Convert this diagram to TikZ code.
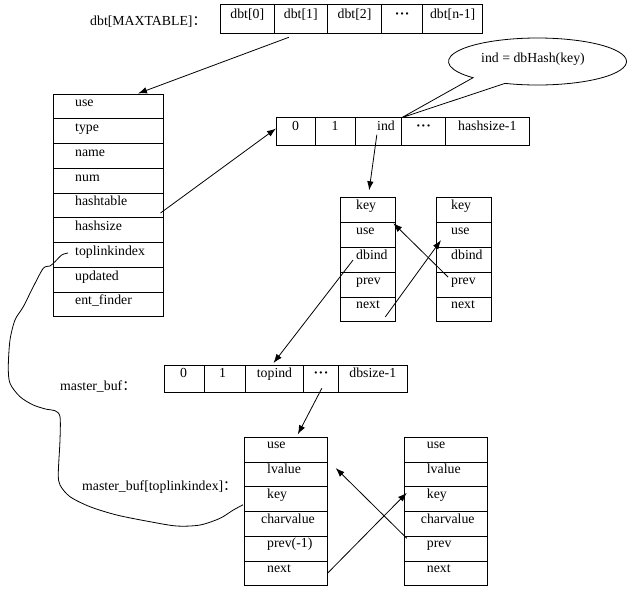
\documentclass[tikz,border=0pt]{standalone}
\usepackage{fontspec}
\setmainfont{Liberation Serif}
\newfontfamily\cjk{Noto Sans CJK SC}
\usetikzlibrary{arrows.meta,calc}
\newcommand{\mydots}{\textbf{·\kern0.5pt·\kern0.5pt·}}
\begin{document}
\begin{tikzpicture}[x=1pt,y=-1pt,
  every node/.style={font=\fontsize{13.8}{15}\selectfont},
  cell/.style={draw, rectangle, inner sep=0pt, outer sep=0pt, line width=0.8pt, anchor=north west},
  txt/.style={inner sep=0pt, anchor=base west},
  ctxt/.style={inner sep=0pt, anchor=base},
  link/.style={line width=0.8pt, -{Latex[length=9pt,width=6.5pt]}},
  plainline/.style={line width=0.8pt}]
\useasboundingbox (0,0) rectangle (633,598);

% ---- dbt array ----
\node[txt] (lblD) at (90,25) {dbt[MAXTABLE]{\cjk ：}};
\node[cell, minimum width=54pt, minimum height=29.3pt] (D0) at (220.3,4) {};
\node[cell, minimum width=53pt, minimum height=29.3pt] (D1) at (274.3,4) {};
\node[cell, minimum width=54.4pt, minimum height=29.3pt] (D2) at (327.3,4) {};
\node[cell, minimum width=41pt, minimum height=29.3pt] (D3) at (381.7,4) {};
\node[cell, minimum width=60pt, minimum height=29.3pt] (D4) at (422.7,4) {};
\node[ctxt] (D0t) at (247.3,18.5) {dbt[0]};
\node[ctxt] (D1t) at (300.8,18.5) {dbt[1]};
\node[ctxt] (D2t) at (354.5,18.5) {dbt[2]};
\node[ctxt] (D3t) at (402.2,18.5) {\mydots};
\node[ctxt] (D4t) at (452.7,18.5) {dbt[n-1]};

% ---- table struct ----
\foreach \t [count=\i from 0] in {use,type,name,num,hashtable,hashsize,toplinkindex,updated,ent\_finder}{
  \node[cell, minimum width=110.5pt, minimum height=24.75pt] (A\i) at (53,94+24.75*\i) {};
  \node[txt] (A\i t) at (75,94+24.75*\i+12.8) {\t};
}

% ---- hash array ----
\node[cell, minimum width=39.3pt, minimum height=27.6pt] (H0) at (276,117.7) {};
\node[cell, minimum width=39.7pt, minimum height=27.6pt] (H1) at (315.3,117.7) {};
\node[cell, minimum width=46.7pt, minimum height=27.6pt] (H2) at (355,117.7) {};
\node[cell, minimum width=43.6pt, minimum height=27.6pt] (H3) at (401.7,117.7) {};
\node[cell, minimum width=84pt, minimum height=27.6pt] (H4) at (445.3,117.7) {};
\node[ctxt] (H0t) at (295.6,130) {0};
\node[ctxt] (H1t) at (335,130) {1};
\node[ctxt] (H2t) at (386,130) {ind};
\node[ctxt] (H3t) at (423.5,130) {\mydots};
\node[ctxt] (H4t) at (487.3,130) {hashsize-1};

% ---- callout ----
\draw[plainline] (H2.north east) -- ([shift={(537.5,61.5)}]111.4:89 and 23.5)
  arc[start angle=111.4, end angle=-223.6, x radius=89, y radius=23.5] -- cycle;
\node[ctxt] (call) at (533,62) {ind = dbHash(key)};

% ---- hash entries ----
\foreach \t [count=\i from 0] in {key,use,dbind,prev,next}{
  \node[cell, minimum width=55.3pt, minimum height=24.9pt] (L\i) at (340,197.3+24.9*\i) {};
  \node[txt] (L\i t) at (356,197.3+24.9*\i+12) {\t};
  \node[cell, minimum width=55pt, minimum height=24.9pt] (R\i) at (436,197.3+24.9*\i) {};
  \node[txt] (R\i t) at (451,197.3+24.9*\i+12) {\t};
}

% ---- master_buf array ----
\node[txt] (lblM) at (60,390.7) {master\_buf{\cjk ：}};
\node[cell, minimum width=40.3pt, minimum height=27.3pt] (M0) at (164,365) {};
\node[cell, minimum width=41.4pt, minimum height=27.3pt] (M1) at (204.3,365) {};
\node[cell, minimum width=57.6pt, minimum height=27.3pt] (M2) at (245.7,365) {};
\node[cell, minimum width=35pt, minimum height=27.3pt] (M3) at (303.3,365) {};
\node[cell, minimum width=69pt, minimum height=27.3pt] (M4) at (338.3,365) {};
\node[ctxt] (M0t) at (183.5,377) {0};
\node[ctxt] (M1t) at (222.5,377) {1};
\node[ctxt] (M2t) at (274.5,377) {topind};
\node[ctxt] (M3t) at (321,377) {\mydots};
\node[ctxt] (M4t) at (372.8,377) {dbsize-1};

% ---- master_buf entries ----
\node[txt] (lblB) at (82,490) {master\_buf[toplinkindex]{\cjk ：}};
\foreach \t/\o [count=\i from 0] in {use/0,lvalue/0,key/0,charvalue/-6,prev(-1)/0,next/0}{
  \node[cell, minimum width=83.7pt, minimum height=24.75pt] (B\i) at (244,437.3+24.75*\i) {};
  \node[txt] (B\i t) at (267+\o,437.3+24.75*\i+11.5) {\t};
}
\foreach \t/\o [count=\i from 0] in {use/0,lvalue/0,key/0,charvalue/-6,prev/0,next/0}{
  \node[cell, minimum width=83.4pt, minimum height=24.75pt] (C\i) at (404.3,437.3+24.75*\i) {};
  \node[txt] (C\i t) at (426.7+\o,437.3+24.75*\i+11.5) {\t};
}

% ---- connectors ----
\draw[link] ($(D1.south)+(-12,4)$) -- ($(A0.north west)+(85,-0.5)$);
\draw[link] ($(A4.north east)+(-3,20)$) -- ($(H0.west)+(0,-3)$);
\draw[link] ($(H2.north)+(-1.5,17)$) -- ($(L0.north)+(1.5,-7)$);
\draw[link] ($(R3.north west)+(12,5)$) -- ($(L1.north east)+(-2,1)$);
\draw[link] ($(L4.north east)+(-10,20)$) -- ($(R1.north west)+(5,18)$);
\draw[link] ($(L2.north west)+(13,13)$) -- ($(M2.north)+(-1,-2)$);
\draw[link] ($(M3.south)+(1,-4)$) -- ($(B0.north)+(12,-3)$);
\draw[link] ($(C4.north west)+(2.5,2)$) -- ($(B1.north east)+(8,6)$);
\draw[link] ($(B5.north east)+(0,12)$) -- ($(C2.north west)+(2.5,6)$);

\coordinate (cs) at ($(A6.north west)+(15,10.5)$);
\coordinate (ce) at ($(B2.north west)+(-1,18)$);
\draw[plainline] plot[smooth, tension=0.5] coordinates {(cs) (61.7,255) (55,261.7) (50,266) (43.3,268.3) (33.3,286.7) (23.3,306.7) (15,320) (10,340) (8.3,366.7) (10,383.3) (20,396.7) (33.3,405) (46.7,409.3) (55,410.7) (60,416.7) (60,440) (58.3,473.3) (60,485) (70,496.7) (90,506.7) (116.7,515) (150,521.7) (176.7,526) (200,525) (220,518.3) (233.3,510) (ce)};
\end{tikzpicture}
\end{document}
